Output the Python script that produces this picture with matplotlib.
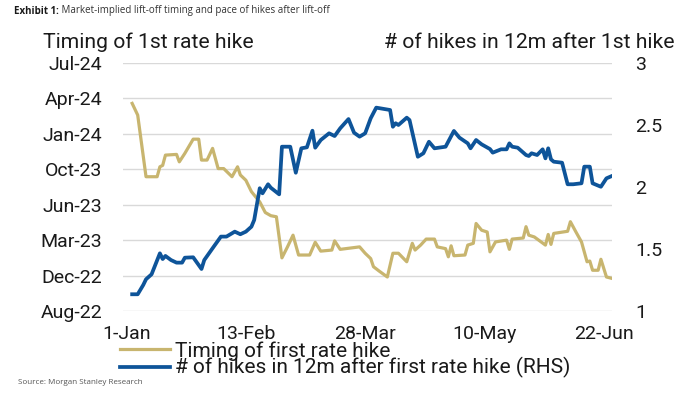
import pandas as pd
import matplotlib
matplotlib.use("Agg")
import matplotlib.pyplot as plt
import matplotlib.dates as mdates

plt.rcParams['font.family'] = ['Roboto', 'DejaVu Sans']

# x: trading days, counted in days from 1 Jan 2022
start = pd.Timestamp('2022-01-01')

# blue series: # of hikes in 12m after first hike (right axis)
hikes_days = [2, 4, 6, 7, 9, 12, 13, 14, 16, 18, 20, 21, 24, 27, 28, 31, 34, 36, 39, 41,
              43, 45, 46, 48, 49, 51, 52, 55, 56, 59, 61, 63, 65, 67, 68, 70, 73, 75, 77, 80,
              82, 84, 86, 88, 90, 95, 96, 97, 98, 101, 102, 105, 107, 109, 111, 115, 118, 120, 123, 124,
              126, 128, 131, 132, 135, 137, 138, 139, 141, 144, 145, 146, 148, 150, 151, 152, 153, 154, 157, 159,
              161, 164, 165, 167, 168, 171, 173, 175]
hikes = [1.135, 1.135, 1.21, 1.256, 1.296, 1.465, 1.419, 1.444, 1.411, 1.39,
         1.39, 1.43, 1.433, 1.339, 1.411, 1.506, 1.60, 1.60, 1.64, 1.619,
         1.64, 1.68, 1.734, 1.99, 1.949, 2.022, 1.994, 1.941, 2.325, 2.325,
         2.115, 2.312, 2.32, 2.454, 2.317, 2.379, 2.433, 2.411, 2.473, 2.548,
         2.438, 2.406, 2.433, 2.554, 2.64, 2.621, 2.486, 2.514, 2.50, 2.559,
         2.54, 2.244, 2.272, 2.365, 2.312, 2.325, 2.452, 2.398, 2.352, 2.312,
         2.379, 2.344, 2.306, 2.277, 2.304, 2.304, 2.352, 2.325, 2.317, 2.258,
         2.25, 2.272, 2.258, 2.304, 2.231, 2.312, 2.223, 2.204, 2.196, 2.022,
         2.022, 2.03, 2.164, 2.164, 2.03, 2.002, 2.07, 2.089]

# gold series: implied timing of first rate hike (left axis, a date)
timing_days = [2, 4, 7, 11, 12, 13, 14, 18, 19, 21, 24, 26, 27, 29, 31, 33, 35, 38, 40, 41,
               43, 45, 48, 50, 52, 54, 56, 58, 60, 62, 66, 68, 70, 74, 75, 77, 84, 86, 88, 89,
               91, 94, 96, 98, 101, 103, 104, 106, 108, 111, 112, 115, 116, 117, 118, 122, 123, 125, 126, 128,
               130, 131, 133, 137, 138, 139, 143, 144, 145, 147, 151, 152, 153, 154, 159, 160, 162, 164, 166, 167,
               168, 170, 171, 173, 175]
timing = ['2024-04-05', '2024-03-03', '2023-09-11', '2023-09-11', '2023-10-09', '2023-10-13', '2023-11-11',
          '2023-11-13', '2023-10-23', '2023-11-16', '2023-12-26', '2023-12-26', '2023-10-28', '2023-10-28',
          '2023-11-30', '2023-10-04', '2023-10-04', '2023-09-11', '2023-10-09', '2023-09-16', '2023-09-01',
          '2023-07-31', '2023-07-02', '2023-06-02', '2023-05-24', '2023-05-21', '2023-01-25', '2023-02-25',
          '2023-03-30', '2023-02-02', '2023-02-02', '2023-03-10', '2023-02-13', '2023-02-16', '2023-03-14',
          '2023-02-18', '2023-02-25', '2023-02-07', '2023-01-23', '2022-12-31', '2022-12-19', '2022-12-02',
          '2023-02-07', '2023-02-07', '2023-01-14', '2023-03-07', '2023-02-16', '2023-03-02', '2023-03-19',
          '2023-03-19', '2023-02-25', '2023-02-20', '2023-01-28', '2023-02-28', '2023-01-31', '2023-02-02',
          '2023-03-02', '2023-03-07', '2023-05-02', '2023-04-13', '2023-04-08', '2023-02-11', '2023-03-11',
          '2023-03-16', '2023-02-18', '2023-03-19', '2023-03-22', '2023-04-23', '2023-03-30', '2023-03-25',
          '2023-03-02', '2023-04-01', '2023-03-04', '2023-04-04', '2023-04-10', '2023-05-07', '2023-04-08',
          '2023-03-11', '2023-01-14', '2023-01-16', '2022-12-21', '2022-12-21', '2023-01-21', '2022-12-02',
          '2022-11-28']

x_ticks = ['2022-01-01', '2022-02-13', '2022-03-28', '2022-05-10', '2022-06-22']
left_base = pd.Timestamp('2022-08-28')   # left axis ticks every 100 days from here
right_ticks = [1, 1.5, 2, 2.5, 3]
right_labels = ['1', '1.5', '2', '2.5', '3']

gold = '#C8B56F'
blue = '#0E5499'
txt = '#1a1a1a'

hx = start + pd.to_timedelta(hikes_days, unit='D')
tx = start + pd.to_timedelta(timing_days, unit='D')
ty = pd.to_datetime(timing)

fig = plt.figure(figsize=(7, 3.94), dpi=100)
ax = fig.add_axes([123 / 700, 1 - 311 / 394, (612 - 123) / 700, (311 - 63) / 394])
ax2 = ax.twinx()

l1, = ax.plot(tx, ty, color=gold, lw=2.3, solid_joinstyle='round')
l2, = ax2.plot(hx, hikes, color=blue, lw=2.7, solid_joinstyle='round')

ax.set_xlim(start - pd.Timedelta(days=1.3), start + pd.Timedelta(days=175))
ax.set_xticks(pd.to_datetime(x_ticks))
ax.xaxis.set_major_formatter(mdates.DateFormatter('%-d-%b'))

left_ticks = [left_base + pd.Timedelta(days=100 * k) for k in range(8)]
ax.set_ylim(left_ticks[0], left_ticks[-1])
ax.set_yticks(left_ticks)
ax.yaxis.set_major_formatter(mdates.DateFormatter('%b-%y'))
ax.grid(axis='y', color='#d9d9d9', lw=1)
ax.set_axisbelow(True)

ax2.set_ylim(1, 3)
ax2.set_yticks(right_ticks)
ax2.set_yticklabels(right_labels)

for a in (ax, ax2):
    for s in a.spines.values():
        s.set_visible(False)
ax.tick_params(axis='y', length=0, pad=15, labelsize=14, labelcolor=txt)
ax.tick_params(axis='x', length=0, pad=10, labelsize=14, labelcolor=txt)
ax2.tick_params(axis='y', length=0, pad=16.5, labelsize=14, labelcolor=txt)

fig.text(43 / 700, 1 - 42 / 394, 'Timing of 1st rate hike', fontsize=15.2, color=txt, va='center')
fig.text(675 / 700, 1 - 42 / 394, '# of hikes in 12m after 1st hike', fontsize=15.2, color=txt,
         va='center', ha='right')

t1 = fig.text(14 / 700, 1 - 11 / 394, 'Exhibit 1:', fontsize=7, fontweight='bold', color=txt,
              va='center', family='Open Sans')
plt.annotate(' Market-implied lift-off timing and pace of hikes after lift-off', xy=(1, 0.5),
             xycoords=t1, va='center', fontsize=7, color='#333333', family='Open Sans')

fig.text(18 / 700, 1 - 382 / 394, 'Source: Morgan Stanley Research', fontsize=5.8, color='#555555',
         va='center', family='Open Sans')

fig.legend([l1, l2], ['Timing of first rate hike', '# of hikes in 12m after first rate hike (RHS)'],
           loc='upper left', bbox_to_anchor=(120 / 700, 1 - 341 / 394), frameon=False,
           fontsize=15, borderpad=0, borderaxespad=0, handlelength=2.4, handletextpad=0.25,
           labelspacing=-0.15, labelcolor=txt)

fig.savefig('out.png', dpi=100)
